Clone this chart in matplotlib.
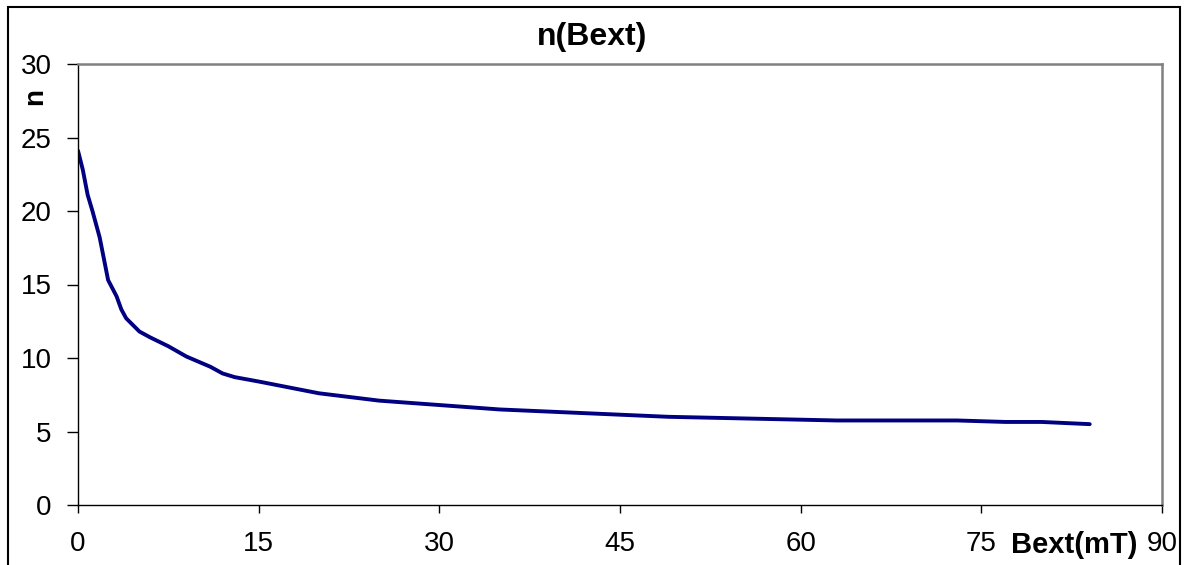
import matplotlib.pyplot as plt
from matplotlib.patches import Rectangle

plt.rcParams['font.family'] = ['Liberation Sans', 'DejaVu Sans']

bext = [0, 0.4, 0.8, 1.2, 1.8, 2.5, 3.2, 3.6, 4.0, 5.1, 6.0, 7.5, 9.0, 11.0, 12.0,
        13.0, 15.0, 20.0, 25.0, 30.0, 35.0, 42.0, 49.0, 63.0, 73.0, 77.0, 80.0, 84.0]
n = [24.1, 22.8, 21.1, 20.0, 18.2, 15.3, 14.2, 13.3, 12.7, 11.8, 11.4, 10.8, 10.1, 9.4, 8.95,
     8.7, 8.4, 7.6, 7.1, 6.8, 6.5, 6.25, 6.0, 5.75, 5.75, 5.65, 5.65, 5.5]
xticks = [0, 15, 30, 45, 60, 75, 90]
yticks = [0, 5, 10, 15, 20, 25, 30]

fig = plt.figure(figsize=(11.84, 5.65), dpi=100)
ax = fig.add_axes([78 / 1184, 60 / 565, 1084 / 1184, 441 / 565])

ax.plot(bext, n, color='#000080', linewidth=2.8, solid_joinstyle='round',
        solid_capstyle='round')

ax.set_xlim(0, 90)
ax.set_ylim(0, 30)
ax.set_xticks(xticks)
ax.set_yticks(yticks)
ax.tick_params(direction='out', width=1, labelsize=20, color='black')
ax.tick_params(axis='x', length=6, pad=13)
ax.tick_params(axis='y', length=8, pad=11)

for side in ['top', 'right']:
    ax.spines[side].set_color('#808080')
    ax.spines[side].set_linewidth(1.8)
for side in ['left', 'bottom']:
    ax.spines[side].set_color('black')
    ax.spines[side].set_linewidth(1)

fig.text(0.5, 1 - 37 / 565, 'n(Bext)', ha='center', va='center',
         fontsize=23, fontweight='bold')
fig.text(35.5 / 1184, 1 - 96.5 / 565, 'n', ha='center', va='center',
         rotation=90, fontsize=20, fontweight='bold')
fig.text(1074 / 1184, 1 - 545 / 565, 'Bext(mT)', ha='center', va='center',
         fontsize=21, fontweight='bold')

# outer chart border
fig.add_artist(Rectangle((8 / 1184, -0.05), 1172 / 1184, 1.05 - 7 / 565,
                         transform=fig.transFigure, fill=False,
                         edgecolor='black', linewidth=1.5, clip_on=False))

fig.savefig('out.png', dpi=100)
